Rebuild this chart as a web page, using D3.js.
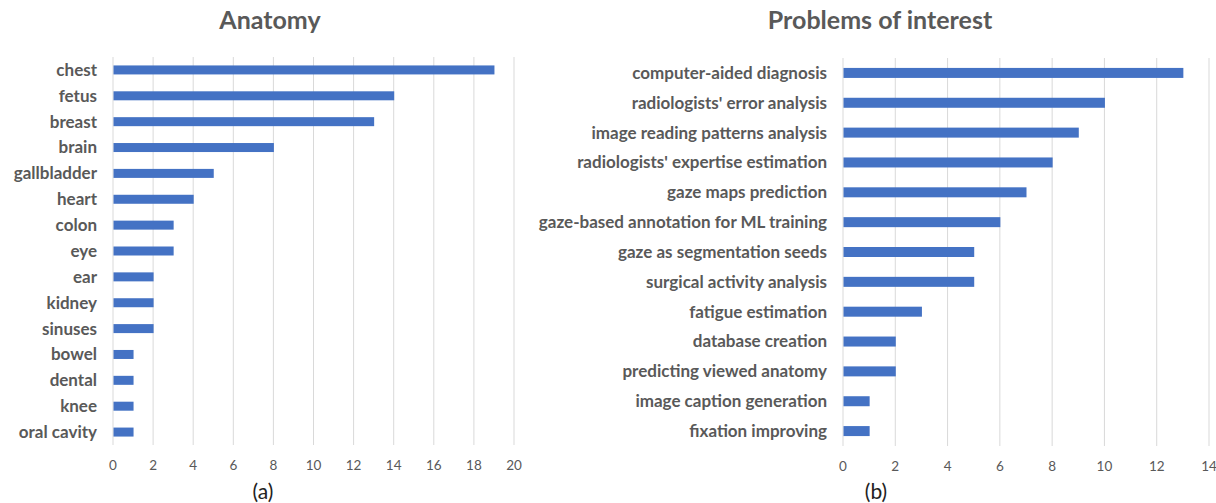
<!DOCTYPE html>
<html>
<head>
<meta charset="utf-8">
<script src="https://cdn.jsdelivr.net/npm/d3@7.9.0/dist/d3.min.js"></script>
<style>
  body { margin: 0; background: #fff; }
  svg { display: block; font-family: Lato, "Open Sans", sans-serif; }
</style>
</head>
<body>
<svg id="chart" width="1216" height="503"></svg>
<script>
// ---------- data ----------
const anatomyLabels = ["chest", "fetus", "breast", "brain", "gallbladder", "heart", "colon", "eye",
  "ear", "kidney", "sinuses", "bowel", "dental", "knee", "oral cavity"];
const anatomyValues = [19, 14, 13, 8, 5, 4, 3, 3, 2, 2, 2, 1, 1, 1, 1];
const anatomyTicks = [0, 2, 4, 6, 8, 10, 12, 14, 16, 18, 20];

const problemLabels = ["computer-aided diagnosis", "radiologists' error analysis",
  "image reading patterns analysis", "radiologists' expertise estimation", "gaze maps prediction",
  "gaze-based annotation for ML training", "gaze as segmentation seeds", "surgical activity analysis",
  "fatigue estimation", "database creation", "predicting viewed anatomy",
  "image caption generation", "fixation improving"];
const problemValues = [13, 10, 9, 8, 7, 6, 5, 5, 3, 2, 2, 1, 1];
const problemTicks = [0, 2, 4, 6, 8, 10, 12, 14];

const svg = d3.select("#chart");
const barColor = "#4472c4";
const textColor = "#595959";

/* draws one horizontal bar panel */
function panel(opts) {
  const { labels, values, ticks, x0, x1, y0, y1, title, titleX, caption, captionX, barH } = opts;
  const g = svg.append("g");

  const x = d3.scaleLinear().domain([0, d3.max(ticks)]).range([x0, x1]);
  const y = d3.scaleBand().domain(labels).range([y0, y1]);

  // gridlines
  g.selectAll("line.grid")
    .data(ticks)
    .enter().append("line")
    .attr("class", "grid")
    .attr("x1", d => x(d)).attr("x2", d => x(d))
    .attr("y1", y0).attr("y2", y1)
    .attr("stroke", "#d9d9d9").attr("stroke-width", 1);

  // bars
  g.selectAll("rect")
    .data(labels.map((l, i) => ({ l, v: values[i] })))
    .enter().append("rect")
    .attr("x", x(0) + 0.5)
    .attr("y", d => y(d.l) + (y.bandwidth() - barH) / 2)
    .attr("width", d => x(d.v) - x(0))
    .attr("height", barH)
    .attr("fill", barColor);

  // category labels
  g.selectAll("text.cat")
    .data(labels)
    .enter().append("text")
    .attr("class", "cat")
    .attr("x", x0 - 16)
    .attr("y", d => y(d) + y.bandwidth() / 2)
    .attr("dy", "0.35em")
    .attr("text-anchor", "end")
    .attr("font-size", 17)
    .attr("font-weight", "bold")
    .attr("fill", textColor)
    .text(d => d);

  // tick labels
  g.selectAll("text.tick")
    .data(ticks)
    .enter().append("text")
    .attr("class", "tick")
    .attr("x", d => x(d))
    .attr("y", y1 + 20)
    .attr("dy", "0.35em")
    .attr("text-anchor", "middle")
    .attr("font-size", 13.5)
    .attr("fill", textColor)
    .text(d => d);

  svg.append("text")
    .attr("x", titleX).attr("y", 29)
    .attr("text-anchor", "middle")
    .attr("font-size", 25)
    .attr("font-weight", "bold")
    .attr("fill", textColor)
    .text(title);

  svg.append("text")
    .attr("x", captionX).attr("y", 499)
    .attr("text-anchor", "middle")
    .attr("font-size", 21)
    .attr("fill", "#222")
    .text(caption);
}

panel({
  labels: anatomyLabels, values: anatomyValues, ticks: anatomyTicks,
  x0: 113, x1: 514, y0: 57, y1: 445, barH: 9,
  title: "Anatomy", titleX: 270, caption: "(a)", captionX: 263
});

panel({
  labels: problemLabels, values: problemValues, ticks: problemTicks,
  x0: 843, x1: 1209, y0: 58, y1: 446, barH: 10,
  title: "Problems of interest", titleX: 880, caption: "(b)", captionX: 876
});
</script>
</body>
</html>
